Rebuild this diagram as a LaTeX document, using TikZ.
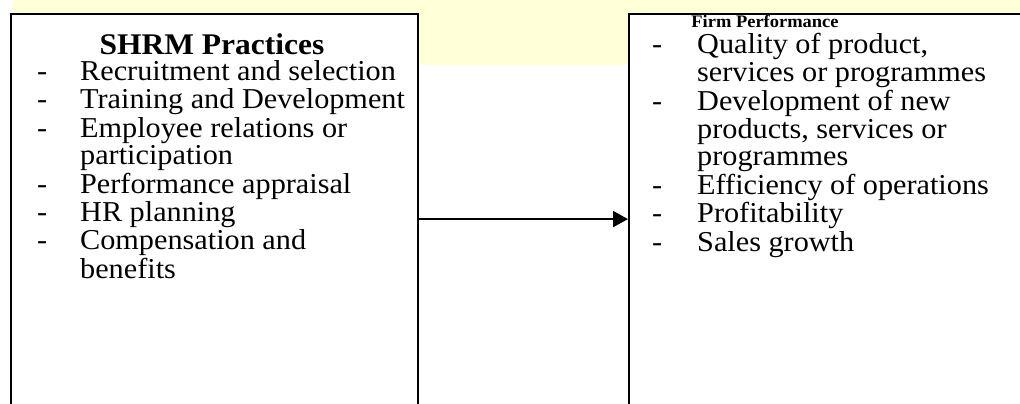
\documentclass[tikz,border=0pt]{standalone}
\usepackage{fontspec}
\setmainfont{Liberation Serif}[FakeStretch=1.05]
\usetikzlibrary{arrows.meta}

\begin{document}
\begin{tikzpicture}[x=1pt, y=1pt,
  panel/.style={draw, line width=2.2pt, fill=white, anchor=north west, minimum height=410pt},
  items/.style={anchor=north west, inner sep=0pt, align=left, font=\fontsize{28.8}{27.5}\selectfont},
  >={Triangle[length=15pt, width=16pt]}]
\useasboundingbox (0,0) rectangle (1020,-404);
\clip (0,0) rectangle (1020,-404);
\definecolor{bandyellow}{RGB}{255,255,216}
\fill[bandyellow] (13,0) rectangle (1020,-65);
\node[panel, minimum width=407pt] (shrm) at (10,-13) {};
\node[panel, minimum width=420pt] (perf) at (628,-13) {};
\node[font=\fontsize{30}{30}\selectfont\bfseries] (shrmtitle) at (212,-44) {SHRM Practices};
\node[items] (shrmlist) at (37,-60.5) {\begin{tabular}{@{}p{43pt}@{}l@{}}
-& Recruitment and selection\\
-& Training and Development\\
-& Employee relations or\\
 & participation\\
-& Performance appraisal\\
-& HR planning\\
-& Compensation and\\
 & benefits
\end{tabular}};
\node[font=\fontsize{17.6}{18}\selectfont\bfseries] (perftitle) at (765,-21) {Firm Performance};
\node[items] (perflist) at (652,-33.5) {\begin{tabular}{@{}p{45pt}@{}l@{}}
-& Quality of product,\\
 & services or programmes\\
-& Development of new\\
 & products, services or\\
 & programmes\\
-& Efficiency of operations\\
-& Profitability\\
-& Sales growth
\end{tabular}};
\draw[->, line width=2pt] (shrm) -- (perf);
\end{tikzpicture}
\end{document}
